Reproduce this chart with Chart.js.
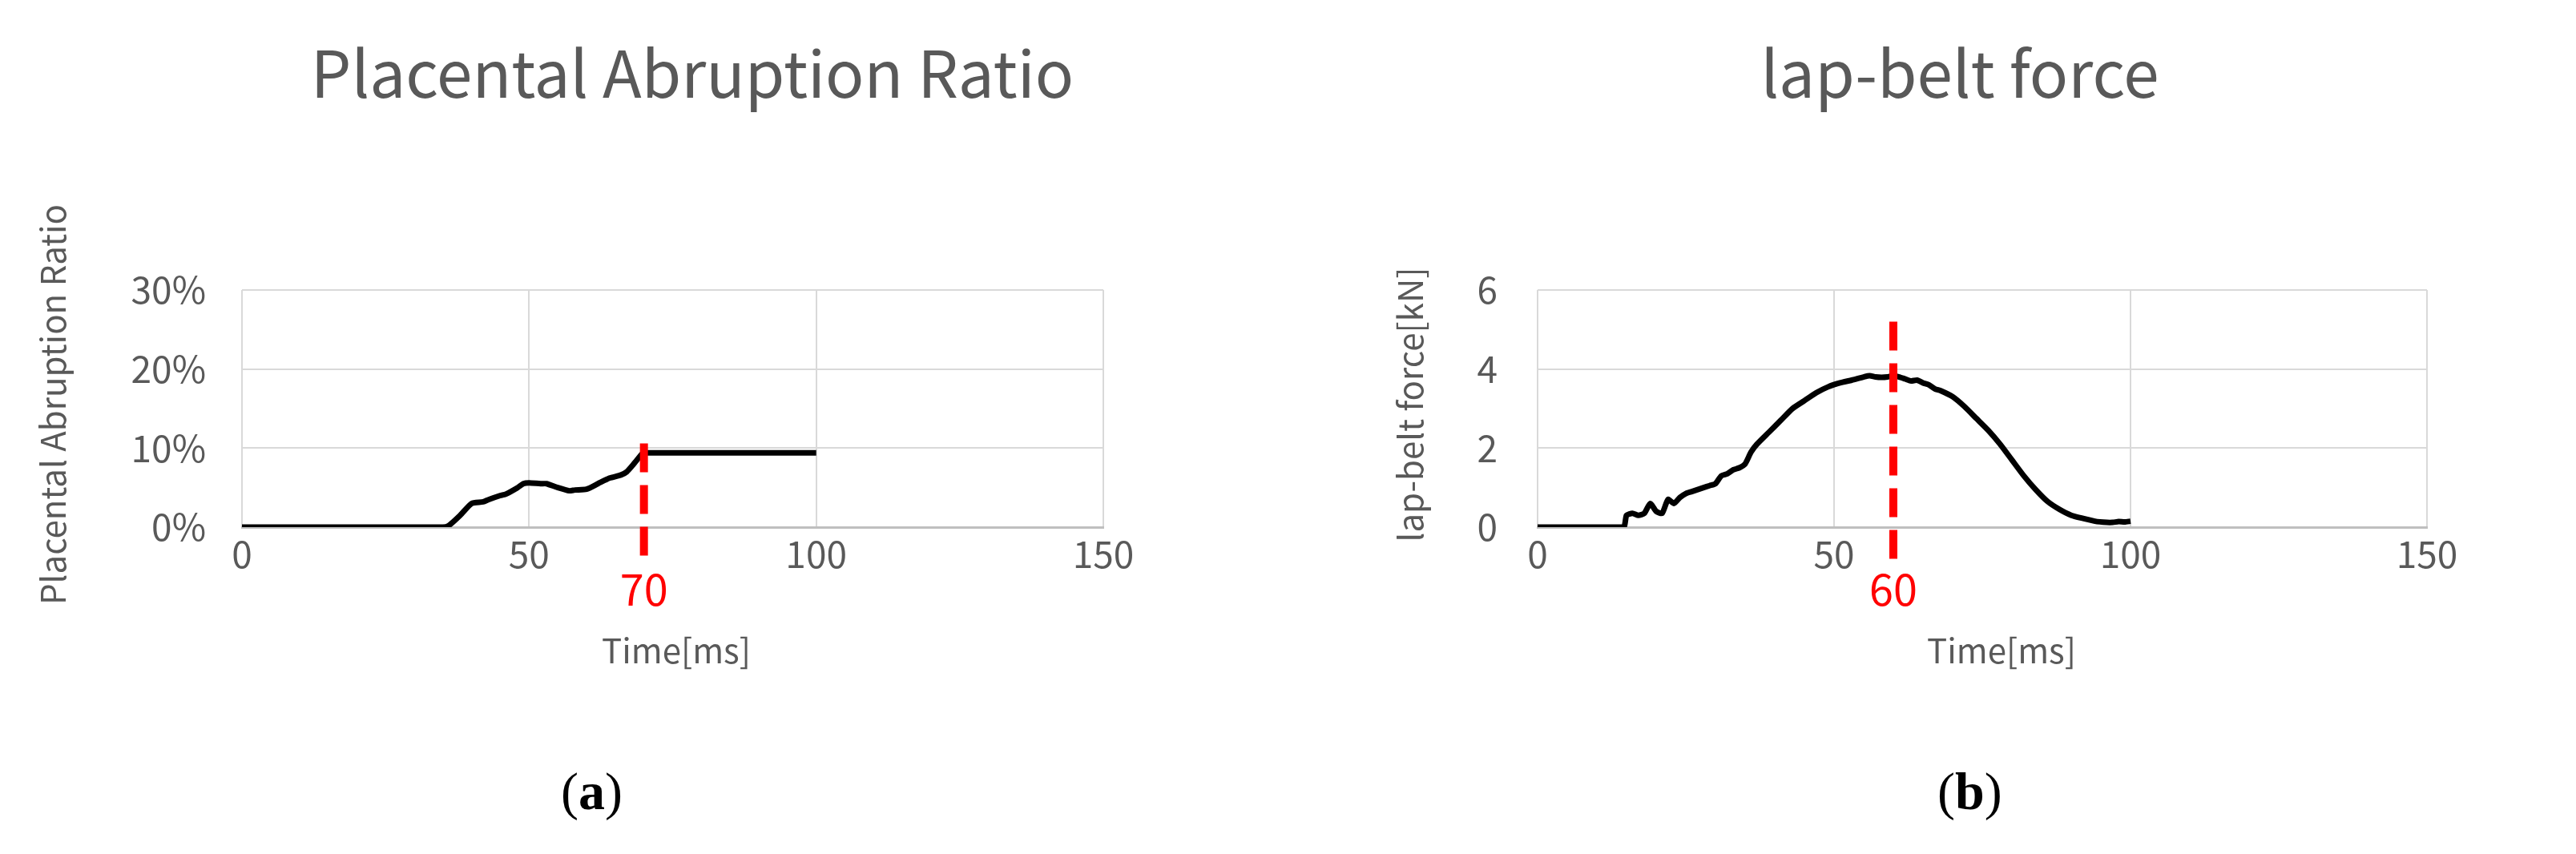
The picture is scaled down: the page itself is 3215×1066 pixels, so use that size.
<!DOCTYPE html>
<html><head><meta charset="utf-8">
<script src="https://cdn.jsdelivr.net/npm/chart.js@4.4.1/dist/chart.umd.min.js"></script>
<style>
html,body{margin:0;padding:0;background:#fff;width:3215px;height:1066px;overflow:hidden}
.box{position:absolute;top:0;height:1066px}
.cap{position:absolute;top:950px;font-family:"Liberation Serif",serif;font-size:66px;color:#000}
</style></head><body>
<div class="box" style="left:0;width:1600px"><canvas id="c1"></canvas></div>
<div class="box" style="left:1600px;width:1615px"><canvas id="c2"></canvas></div>
<div class="cap" style="left:700px">(<b>a</b>)</div>
<div class="cap" style="left:2418px">(<b>b</b>)</div>
<script>
const ratioTime = [0,10,20,30,35,36,38,40,42,43,45,46,48,49,50,52,53,55,57,58,60,62,64,66,67,68,69,70,70.5,80,90,100];
const ratioValues = [0,0,0,0,0,0.002,0.015,0.03,0.032,0.035,0.04,0.042,0.05,0.055,0.056,0.055,0.055,0.05,0.046,0.047,0.048,0.055,0.062,0.066,0.07,0.078,0.087,0.095,0.094,0.094,0.094,0.094];
const forceTime = [0,5,10,14.5,15,16,17,18,19,20,21,22,23,24,25,26,27,28,29,30,31,32,33,34,35,36,37,39,41,43,45,47,49,51,53,55,56,57,58,59,60,61,62,63,64,65,66,67,68,70,72,74,76,78,80,82,84,86,88,90,92,94,96,97,98,99,100];
const forceValues = [0,0,0,0,0.3,0.35,0.3,0.35,0.6,0.4,0.35,0.7,0.6,0.75,0.85,0.9,0.95,1.0,1.05,1.1,1.3,1.35,1.45,1.5,1.6,1.9,2.1,2.4,2.7,3.0,3.2,3.4,3.55,3.65,3.72,3.8,3.83,3.8,3.79,3.8,3.83,3.8,3.75,3.7,3.72,3.65,3.6,3.5,3.45,3.3,3.05,2.75,2.45,2.1,1.7,1.3,0.95,0.65,0.45,0.3,0.22,0.15,0.12,0.12,0.14,0.13,0.15];
const ratioMarker = {x:70, top:0.106, bottom:-0.04, label:'70'};
const forceMarker = {x:60, top:5.2, bottom:-0.8, label:'60'};
const xTicks = [0,50,100,150];

const FONT = '"Noto Sans CJK JP","Noto Sans",sans-serif';
const GRAY = '#595959';

function pts(xs, ys){return xs.map((x,i)=>({x:x,y:ys[i]}));}

function make(id, cfg){
  const textPlugin = {
    id:'txt',
    afterDraw(chart){
      const ctx = chart.ctx, xs = chart.scales.x;
      ctx.save();
      ctx.fillStyle = GRAY;
      ctx.textAlign='center'; ctx.textBaseline='middle';
      ctx.font = '80px '+FONT;
      ctx.fillText(cfg.title, cfg.titleX, 92);
      ctx.font = '42px '+FONT;
      ctx.fillText('Time[ms]', cfg.xTitleX, 812);
      ctx.save();
      ctx.translate(cfg.yTitleX, 505);
      ctx.rotate(-Math.PI/2);
      ctx.fillText(cfg.yTitle, 0, 0);
      ctx.restore();
      ctx.fillStyle = '#ff0000';
      ctx.font = '54px '+FONT;
      ctx.fillText(cfg.marker.label, xs.getPixelForValue(cfg.marker.x), 735);
      ctx.restore();
    }
  };
  return new Chart(document.getElementById(id), {
    type:'scatter',
    data:{datasets:[
      {data:pts(cfg.xs,cfg.ys), showLine:true, borderColor:'#000', borderWidth:7, pointRadius:0, tension:0.2, order:2},
      {data:[{x:cfg.marker.x,y:cfg.marker.top},{x:cfg.marker.x,y:cfg.marker.bottom}], showLine:true, borderColor:'#ff0000', borderWidth:10, borderDash:[36,16], pointRadius:0, clip:false, order:1}
    ]},
    plugins:[textPlugin],
    options:{
      responsive:false, animation:false, devicePixelRatio:1,
      layout:{padding:{top:362,left:0,right:cfg.padRight,bottom:0}},
      plugins:{legend:{display:false},tooltip:{enabled:false},title:{display:false}},
      scales:{
        x:{type:'linear',min:0,max:150,
          afterBuildTicks(s){s.ticks=xTicks.map(v=>({value:v}));},
          afterFit(s){s.height=1066-658;},
          grid:{color:'#d9d9d9',lineWidth:2,drawTicks:false},
          border:{color:'#bfbfbf',width:3},
          ticks:{color:GRAY,font:{family:FONT,size:46},padding:6,maxRotation:0}},
        y:{min:0,max:cfg.ymax,
          afterBuildTicks(s){s.ticks=cfg.yTicks.map(v=>({value:v}));},
          afterFit(s){s.width=cfg.yWidth;},
          grid:{color:'#d9d9d9',lineWidth:2,drawTicks:false},
          border:{display:false},
          ticks:{color:GRAY,font:{family:FONT,size:46},padding:cfg.yPad,callback:cfg.fmt}}
      }
    }
  });
}
document.getElementById('c1').width=1600;document.getElementById('c1').height=1066;
document.getElementById('c2').width=1615;document.getElementById('c2').height=1066;
make('c1',{xs:ratioTime,ys:ratioValues,marker:ratioMarker,title:'Placental Abruption Ratio',titleX:864,xTitleX:844,yTitleX:66,
  yTitle:'Placental Abruption Ratio',ymax:0.3,yTicks:[0,0.1,0.2,0.3],fmt:v=>Math.round(v*100)+'%',yWidth:302,yPad:45,padRight:223});
make('c2',{xs:forceTime,ys:forceValues,marker:forceMarker,title:'lap-belt force',titleX:2446-1600,xTitleX:2498-1600,yTitleX:1760-1600,
  yTitle:'lap-belt force[kN]',ymax:6,yTicks:[0,2,4,6],fmt:v=>String(v),yWidth:319,yPad:50,padRight:186});
</script></body></html>
